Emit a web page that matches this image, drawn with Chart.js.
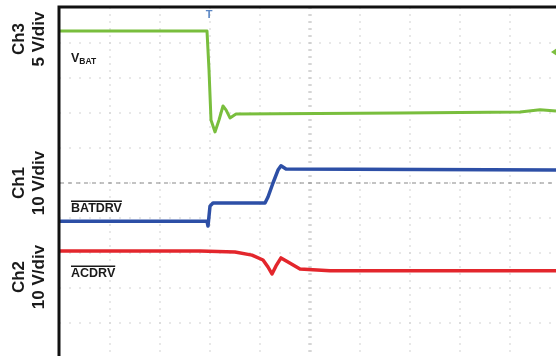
<!DOCTYPE html>
<html>
<head>
<meta charset="utf-8">
<script src="https://cdn.jsdelivr.net/npm/chart.js@4/dist/chart.umd.min.js"></script>
<style>
  html, body { margin: 0; padding: 0; background: #fff; overflow: hidden; }
  #wrap { position: absolute; left: 0; top: 0; width: 560px; height: 360px; }
</style>
</head>
<body>
<div id="wrap"><canvas id="scope" width="560" height="360"></canvas></div>
<script>
// time axis in divisions (0..10), amplitude in screen divisions (0 = bottom, 10 = top)
const vbatX = [0, 2.94, 2.98, 3.02, 3.10, 3.18, 3.26, 3.32, 3.40, 3.52, 6.8, 9.2, 9.6, 9.92];
const vbatY = [9.34, 9.34, 8.23, 6.8, 6.46, 6.8, 7.2, 7.09, 6.86, 6.97, 7.0, 7.03, 7.09, 7.06];

const batdrvX = [0, 2.94, 2.96, 3.0, 3.06, 4.1, 4.16, 4.26, 4.36, 4.42, 4.52, 9.92];
const batdrvY = [3.91, 3.91, 3.77, 4.34, 4.43, 4.43, 4.6, 5.0, 5.37, 5.49, 5.4, 5.37];

const acdrvX = [0, 2.8, 3.5, 3.84, 4.06, 4.16, 4.24, 4.32, 4.42, 4.56, 4.8, 5.4, 9.92];
const acdrvY = [3.06, 3.06, 3.03, 2.94, 2.8, 2.6, 2.4, 2.63, 2.86, 2.74, 2.54, 2.49, 2.49];

const channelLabels = [
    { name: "Ch3", scale: "5 V/div", y: 39 },
    { name: "Ch1", scale: "10 V/div", y: 183 },
    { name: "Ch2", scale: "10 V/div", y: 277 }
];

function pts(xs, ys) {
    return xs.map((x, i) => ({ x: x, y: ys[i] }));
}

const scopeDecor = {
    id: "scopeDecor",
    beforeDatasetsDraw(chart) {
        const ctx = chart.ctx;
        const sx = chart.scales.x, sy = chart.scales.y;
        ctx.save();
        // dotted graticule
        ctx.fillStyle = "#d6d6d6";
        for (let j = 1; j < 10; j++) {
            const py = sy.getPixelForValue(j);
            for (let m = 0; m <= 50; m++) {
                const px = sx.getPixelForValue(m * 0.2);
                ctx.fillRect(px - 0.75, py - 0.75, 1.5, 1.5);
            }
        }
        for (let k = 1; k < 10; k++) {
            const px = sx.getPixelForValue(k);
            for (let m = 0; m <= 50; m++) {
                const py = sy.getPixelForValue(m * 0.2);
                ctx.fillRect(px - 0.75, py - 0.75, 1.5, 1.5);
            }
        }
        // centre axes with minor ticks
        const cx = sx.getPixelForValue(5), cy = sy.getPixelForValue(5);
        ctx.strokeStyle = "#c4c4c4";
        ctx.lineWidth = 1;
        for (let m = 0; m <= 50; m++) {
            const py = sy.getPixelForValue(m * 0.2);
            ctx.beginPath();
            ctx.moveTo(cx - 2, py);
            ctx.lineTo(cx + 2, py);
            ctx.stroke();
        }
        ctx.strokeStyle = "#8a8a8a";
        ctx.setLineDash([4, 4]);
        ctx.beginPath();
        ctx.moveTo(chart.chartArea.left, cy);
        ctx.lineTo(chart.chartArea.right, cy);
        ctx.stroke();
        ctx.setLineDash([]);
        ctx.restore();
    },
    afterDraw(chart) {
        const ctx = chart.ctx;
        const sx = chart.scales.x, sy = chart.scales.y;
        const a = chart.chartArea;
        ctx.save();
        // frame
        ctx.strokeStyle = "#111";
        ctx.lineWidth = 3;
        ctx.beginPath();
        ctx.moveTo(a.left - 1, 360);
        ctx.lineTo(a.left - 1, a.top - 1);
        ctx.lineTo(a.right, a.top - 1);
        ctx.stroke();

        // trigger marker
        const tx = sx.getPixelForValue(2.98);
        ctx.fillStyle = "#5b86c4";
        ctx.font = "bold 11px 'Liberation Sans', Arial, sans-serif";
        ctx.textAlign = "center";
        ctx.textBaseline = "middle";
        ctx.fillText("T", tx, 15);
        // ch3 level marker at right
        ctx.fillStyle = "#7cbf3f";
        ctx.beginPath();
        const my = sy.getPixelForValue(8.74);
        ctx.moveTo(551, my);
        ctx.lineTo(557, my - 4);
        ctx.lineTo(557, my + 4);
        ctx.closePath();
        ctx.fill();

        // channel labels (rotated)
        ctx.fillStyle = "#1a1a1a";
        ctx.font = "bold 17px 'Liberation Sans', Arial, sans-serif";
        channelLabels.forEach(l => {
            ctx.save();
            ctx.translate(19, l.y);
            ctx.rotate(-Math.PI / 2);
            ctx.fillText(l.name, 0, 0);
            ctx.restore();
            ctx.save();
            ctx.translate(39, l.y);
            ctx.rotate(-Math.PI / 2);
            ctx.fillText(l.scale, 0, 0);
            ctx.restore();
        });

        // trace names
        ctx.textAlign = "left";
        ctx.textBaseline = "alphabetic";
        ctx.font = "bold 12.5px 'Liberation Sans', Arial, sans-serif";
        ctx.fillText("V", 71, 62);
        const vw = ctx.measureText("V").width;
        ctx.font = "bold 8.5px 'Liberation Sans', Arial, sans-serif";
        ctx.fillText("BAT", 71 + vw, 64);

        ctx.font = "bold 12.5px 'Liberation Sans', Arial, sans-serif";
        [["BATDRV", 212], ["ACDRV", 277]].forEach(([t, by]) => {
            ctx.fillText(t, 71, by);
            const w = ctx.measureText(t).width;
            ctx.fillRect(71, by - 11.5, w, 1.5);
        });
        ctx.restore();
    }
};

new Chart(document.getElementById("scope").getContext("2d"), {
    type: "line",
    data: {
        datasets: [
            {
                label: "VBAT",
                data: pts(vbatX, vbatY),
                borderColor: "#79be3d",
                borderWidth: 3,
            },
            {
                label: "BATDRV",
                data: pts(batdrvX, batdrvY),
                borderColor: "#2d4fa6",
                borderWidth: 3.5,
            },
            {
                label: "ACDRV",
                data: pts(acdrvX, acdrvY),
                borderColor: "#e3262c",
                borderWidth: 3.5,
            },
        ],
    },
    options: {
        responsive: false,
        animation: false,
        layout: { padding: { left: 60, top: 8, right: 0, bottom: 2 } },
        elements: { point: { radius: 0 }, line: { tension: 0, borderJoinStyle: "round" } },
        plugins: {
            legend: { display: false },
            tooltip: { enabled: false },
        },
        scales: {
            x: { type: "linear", min: 0, max: 10, display: false },
            y: { type: "linear", min: 0, max: 10, display: false },
        },
    },
    plugins: [scopeDecor],
});
</script>
</body>
</html>
